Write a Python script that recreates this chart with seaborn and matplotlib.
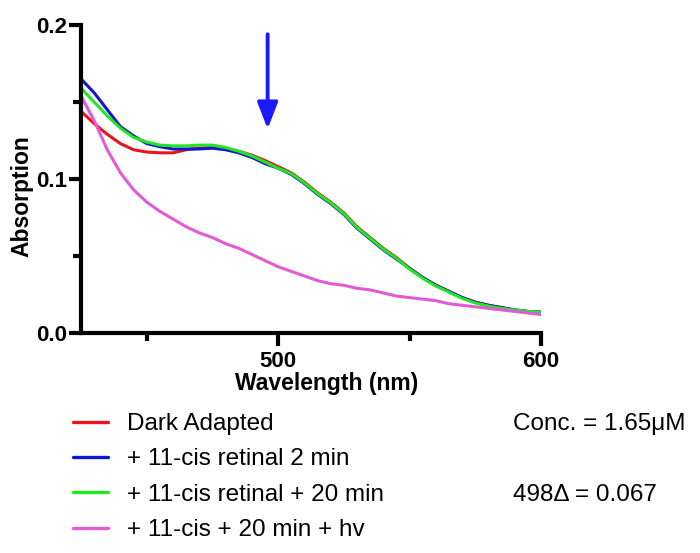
import pandas as pd
import numpy as np
import matplotlib
matplotlib.use("Agg")
import matplotlib.pyplot as plt
import seaborn as sns

# wavelength grid (nm) and absorbance
wavelength = list(range(425, 601, 5))

dark_adapted = [0.144, 0.136, 0.129, 0.123, 0.119, 0.1175, 0.117, 0.117, 0.119, 0.120,
                0.1205, 0.120, 0.118, 0.1155, 0.112, 0.108, 0.104, 0.098, 0.091, 0.085,
                0.078, 0.069, 0.062, 0.055, 0.049, 0.042, 0.036, 0.031, 0.027, 0.023,
                0.020, 0.018, 0.0165, 0.015, 0.014, 0.0135]
retinal_2min = [0.165, 0.156, 0.145, 0.134, 0.128, 0.123, 0.121, 0.1195, 0.1195, 0.1195,
                0.120, 0.119, 0.117, 0.114, 0.110, 0.107, 0.103, 0.097, 0.090, 0.084,
                0.077, 0.068, 0.061, 0.054, 0.048, 0.042, 0.036, 0.031, 0.027, 0.023,
                0.020, 0.018, 0.0165, 0.015, 0.014, 0.0135]
retinal_20min = [0.159, 0.150, 0.141, 0.133, 0.127, 0.124, 0.122, 0.1215, 0.1215, 0.122,
                 0.122, 0.1205, 0.118, 0.115, 0.111, 0.107, 0.1035, 0.0975, 0.0905, 0.0845,
                 0.0775, 0.0685, 0.0615, 0.0545, 0.0485, 0.0415, 0.0355, 0.0305, 0.0265, 0.0225,
                 0.0195, 0.0175, 0.016, 0.015, 0.014, 0.0135]
bleached = [0.154, 0.138, 0.119, 0.104, 0.093, 0.085, 0.079, 0.074, 0.069, 0.065,
            0.062, 0.058, 0.055, 0.051, 0.047, 0.043, 0.040, 0.037, 0.034, 0.032,
            0.031, 0.029, 0.028, 0.026, 0.024, 0.023, 0.022, 0.021, 0.019, 0.018,
            0.017, 0.016, 0.015, 0.014, 0.013, 0.012]

labels = ["Dark Adapted", "+ 11-cis retinal 2 min",
          "+ 11-cis retinal + 20 min", "+ 11-cis + 20 min + hv"]
colors = ["#e8161c", "#1216cc", "#22e622", "#e25ad4"]

df = pd.DataFrame({
    "Wavelength": wavelength * 4,
    "Absorption": dark_adapted + retinal_2min + retinal_20min + bleached,
    "condition": np.repeat(labels, len(wavelength)),
})

sns.set_style("ticks")
plt.rcParams["font.family"] = ["Liberation Sans", "DejaVu Sans"]
plt.rcParams["text.color"] = "black"
plt.rcParams["axes.labelcolor"] = "black"

fig = plt.figure(figsize=(7, 5.53), dpi=100)
ax = fig.add_axes([81 / 700, 1 - 333 / 553, 460 / 700, 308 / 553])

sns.lineplot(data=df, x="Wavelength", y="Absorption", hue="condition",
             palette=dict(zip(labels, colors)), hue_order=labels,
             linewidth=2.2, ax=ax)

ax.set_xlim(425, 600)
ax.set_ylim(0, 0.2)
ax.set_xticks([500, 600])
ax.set_xticks([450, 550], minor=True)
ax.set_yticks([0, 0.1, 0.2])
ax.set_yticklabels(["0.0", "0.1", "0.2"])
ax.set_yticks([0.05, 0.15], minor=True)
sns.despine(ax=ax)
for s in ["left", "bottom"]:
    ax.spines[s].set_linewidth(3)
    ax.spines[s].set_color("black")
ax.tick_params(which="major", length=9, width=3, color="black",
               labelsize=16, labelcolor="black")
ax.tick_params(axis="y", which="major", pad=1)
ax.tick_params(axis="x", which="major", pad=4)
ax.tick_params(which="minor", length=5.5, width=3, color="black")
for t in ax.get_xticklabels() + ax.get_yticklabels():
    t.set_fontweight("bold")

ax.set_xlabel("Wavelength (nm)", fontsize=16.5, fontweight="bold", color="black")
ax.set_ylabel("Absorption", fontsize=16.5, fontweight="bold", color="black")
ax.xaxis.set_label_coords(0.535, -0.128)
ax.yaxis.set_label_coords(-0.104, 0.446)

# blue arrow marking 498 nm drop
ax.annotate("", xy=(496, 0.1325), xytext=(496, 0.194),
            arrowprops=dict(arrowstyle="-|>,head_length=1.6,head_width=0.62",
                            mutation_scale=10, color="#1a1aff", lw=2.8,
                            shrinkA=0, shrinkB=0))

sns.move_legend(ax, "upper left", bbox_to_anchor=(73 / 700, 1 - 413 / 553),
                bbox_transform=fig.transFigure, frameon=False, title=None,
                fontsize=17.5, handlelength=1.44, handletextpad=0.78,
                labelspacing=0.55, borderpad=0, borderaxespad=0)
for line in ax.get_legend().get_lines():
    line.set_linewidth(2.4)

fig.text(513 / 700, 1 - 424 / 553, "Conc. = 1.65\u03bcM", fontsize=17.5, va="center")
fig.text(513 / 700, 1 - 495 / 553, "498\u0394 = 0.067", fontsize=17.5, va="center")

plt.savefig("out.png", dpi=100)
